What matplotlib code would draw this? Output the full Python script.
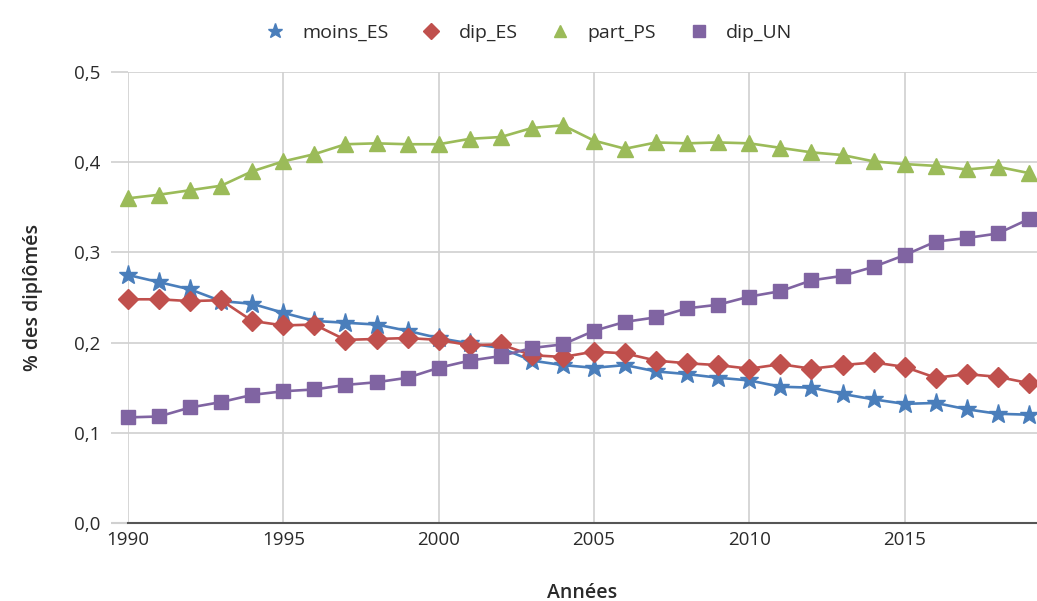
import matplotlib
matplotlib.use("Agg")
import matplotlib.pyplot as plt
from matplotlib.ticker import FuncFormatter

plt.rcParams["font.family"] = ["Open Sans", "DejaVu Sans"]

# Part des diplômés par niveau, 1990-2019
annees = list(range(1990, 2020))

moins_ES = [0.275, 0.267, 0.259, 0.246, 0.243, 0.233, 0.224, 0.222, 0.220, 0.213,
            0.205, 0.199, 0.194, 0.180, 0.175, 0.172, 0.175, 0.168, 0.165, 0.161,
            0.158, 0.151, 0.150, 0.143, 0.137, 0.132, 0.133, 0.126, 0.121, 0.120]

dip_ES = [0.248, 0.248, 0.246, 0.247, 0.224, 0.219, 0.220, 0.203, 0.204, 0.205,
          0.203, 0.197, 0.198, 0.186, 0.184, 0.190, 0.188, 0.180, 0.177, 0.175,
          0.171, 0.176, 0.171, 0.175, 0.178, 0.173, 0.161, 0.165, 0.162, 0.155]

part_PS = [0.360, 0.364, 0.369, 0.374, 0.390, 0.401, 0.409, 0.420, 0.421, 0.420,
           0.420, 0.426, 0.428, 0.438, 0.441, 0.424, 0.415, 0.422, 0.421, 0.422,
           0.421, 0.416, 0.411, 0.408, 0.401, 0.398, 0.396, 0.392, 0.395, 0.388]

dip_UN = [0.117, 0.118, 0.128, 0.134, 0.142, 0.146, 0.148, 0.153, 0.156, 0.161,
          0.172, 0.180, 0.185, 0.194, 0.198, 0.213, 0.223, 0.228, 0.238, 0.242,
          0.251, 0.257, 0.269, 0.274, 0.284, 0.297, 0.312, 0.316, 0.321, 0.337]

series = [
    ("moins_ES", moins_ES, "#4a7ebb", "*", 14),
    ("dip_ES", dip_ES, "#c0504d", "D", 10),
    ("part_PS", part_PS, "#9bbb59", "^", 11),
    ("dip_UN", dip_UN, "#8064a2", "s", 10),
]

fig = plt.figure(figsize=(10.37, 6.01), dpi=100)
ax = fig.add_axes([0.1234, 0.130, 0.8766, 0.750])

for nom, valeurs, couleur, marqueur, taille in series:
    ax.plot(annees, valeurs, color=couleur, linewidth=1.9, marker=marqueur,
            markersize=taille, label=nom, clip_on=False, zorder=3)

ax.set_xlim(1990, 2019.26)
ax.set_ylim(0, 0.5)
ax.set_xticks(range(1990, 2016, 5))
ax.set_yticks([0, 0.1, 0.2, 0.3, 0.4, 0.5])
ax.yaxis.set_major_formatter(FuncFormatter(lambda v, p: f"{v:.1f}".replace(".", ",")))

ax.grid(True, color="#d0d0d0", linewidth=1.2)
ax.set_axisbelow(True)
for cote in ["top", "right", "left"]:
    ax.spines[cote].set_visible(False)
ax.spines["bottom"].set_color("#555555")
ax.spines["bottom"].set_linewidth(1.5)

ax.tick_params(axis="y", length=12, width=1.2, color="#d0d0d0", pad=8,
               labelsize=13.5, labelcolor="#2a2a2a")
ax.tick_params(axis="x", length=0, pad=6, labelsize=13.5, labelcolor="#2a2a2a")
premier = ax.yaxis.get_major_ticks()[0]
premier.tick1line.set_color("#555555")
premier.tick1line.set_markeredgewidth(1.5)

ax.set_ylabel("% des diplômés", fontsize=14, color="#2a2a2a", fontweight="semibold", labelpad=22)
ax.set_xlabel("Années", fontsize=14, color="#2a2a2a", fontweight="semibold", labelpad=24)

leg = fig.legend(loc="upper center", bbox_to_anchor=(0.51, 0.99), ncol=4, frameon=False,
                 fontsize=14, handlelength=1.0, columnspacing=1.7, handletextpad=0.9,
                 markerscale=0.8)
for ligne in leg.get_lines():
    ligne.set_linestyle("none")
for texte in leg.get_texts():
    texte.set_color("#2a2a2a")

fig.savefig("out.png", dpi=100)
